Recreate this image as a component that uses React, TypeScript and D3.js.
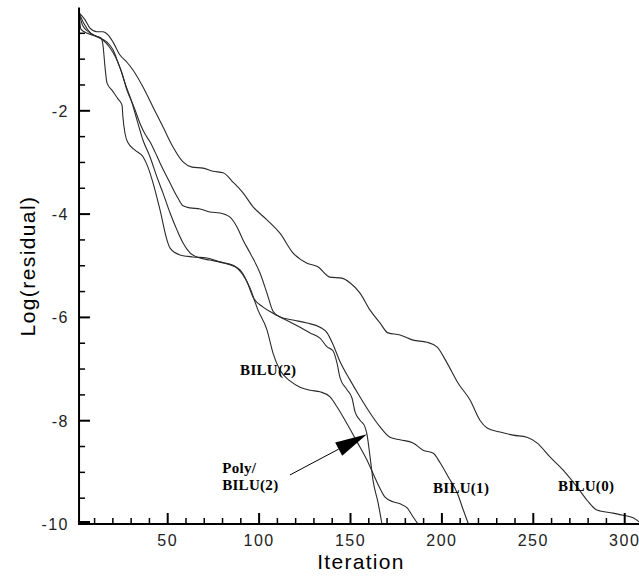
import React from "react";
import * as d3 from "d3";

type P = [number, number];

const bilu0: P[] = [
  [1.5, -0.1], [4.8, -0.24], [7.5, -0.4], [11.3, -0.47], [14.6, -0.47], [17.3, -0.53], [20.1, -0.67],
  [23.9, -0.92], [27.7, -1.06], [31.0, -1.21], [36.5, -1.54], [42.0, -1.93], [47.4, -2.31], [52.9, -2.7],
  [58.4, -2.99], [63.3, -3.09], [69.3, -3.11], [74.8, -3.17], [80.3, -3.2], [85.7, -3.38], [91.2, -3.59],
  [96.7, -3.86], [104.3, -4.11], [111.4, -4.37], [118.5, -4.75], [126.2, -4.95], [132.2, -5.02],
  [138.7, -5.22], [145.3, -5.24], [149.7, -5.33], [155.2, -5.53], [160.7, -5.86], [166.2, -6.11],
  [170.5, -6.3], [177.1, -6.34], [184.2, -6.44], [191.8, -6.48], [197.3, -6.57], [202.8, -6.88],
  [208.8, -7.27], [215.4, -7.6], [220.8, -7.99], [224.7, -8.14], [231.8, -8.22], [238.9, -8.28],
  [246.5, -8.32], [252.0, -8.43], [259.1, -8.7], [266.2, -8.95], [273.9, -9.28], [279.4, -9.54],
  [284.8, -9.73], [293.6, -9.79], [299.1, -9.83], [304.6, -9.88], [308.5, -9.97],
];

const bilu1: P[] = [
  [1.5, -0.1], [4, -0.3], [8, -0.5], [12, -0.57], [14.6, -0.63], [18.4, -0.78], [21.7, -0.98],
  [23.9, -1.17], [26.6, -1.46], [29.4, -1.73], [32.1, -1.98], [34.8, -2.24], [37.6, -2.45], [40.3, -2.6],
  [43.1, -2.8], [45.8, -3.01], [51.3, -3.4], [55.6, -3.69], [58.4, -3.84], [62.2, -3.88], [67.7, -3.9],
  [73.1, -3.96], [78.6, -3.98], [84.1, -4.06], [87.9, -4.25], [91.2, -4.5], [95.0, -4.75], [100.5, -5.14],
  [104.3, -5.53], [107.6, -5.88], [111.4, -5.99], [118.5, -6.05], [126.2, -6.11], [133.3, -6.19],
  [137.2, -6.3], [140.5, -6.53], [144.3, -6.86], [149.7, -7.21], [155.2, -7.54], [160.7, -7.85],
  [166.2, -8.12], [171.6, -8.32], [177.1, -8.37], [184.2, -8.43], [189.7, -8.57], [195.3, -8.63],
  [199.1, -8.82], [203.5, -9.09], [208.4, -9.4], [211.7, -9.73], [214.5, -10.0],
];

const bilu2: P[] = [
  [1.5, -0.1], [2.5, -0.42], [6, -0.5], [11, -0.56], [13.5, -0.59], [14.6, -0.73], [15.7, -1.15],
  [16.8, -1.46], [19.5, -1.6], [22.8, -1.77], [25.0, -1.89], [25.5, -2.12], [26.6, -2.43], [28.3, -2.62],
  [32.1, -2.76], [36.5, -2.89], [39.2, -3.09], [42.0, -3.4], [45.8, -3.92], [49.6, -4.5], [51.3, -4.66],
  [56.7, -4.79], [63.8, -4.83], [71.5, -4.85], [78.6, -4.93], [85.7, -4.99], [91.2, -5.18], [95.0, -5.43],
  [99.4, -5.86], [104.3, -6.24], [107.6, -6.69], [111.4, -7.02], [116.9, -7.23], [122.4, -7.35],
  [127.9, -7.41], [133.3, -7.44], [138.8, -7.54], [142.6, -7.73], [148.1, -8.06], [153.6, -8.41],
  [159.0, -8.76], [164.5, -9.19], [168.9, -9.48], [173.3, -9.57], [177.1, -9.61], [181.0, -9.69],
  [184.2, -9.86], [186.9, -10.0],
];

const polyBilu2: P[] = [
  [1.5, -0.1], [3.5, -0.35], [7, -0.48], [11, -0.56], [14.6, -0.62], [16.8, -0.67], [20.1, -0.82],
  [22.8, -1.06], [25.0, -1.27], [27.7, -1.6], [30.5, -1.85], [33.2, -2.18], [36.5, -2.57], [40.3, -2.89],
  [44.1, -3.28], [47.4, -3.59], [51.3, -3.98], [55.1, -4.31], [58.4, -4.56], [62.2, -4.75], [66.0, -4.83],
  [73.1, -4.89], [81.4, -4.95], [89.6, -5.08], [93.4, -5.31], [96.7, -5.61], [102.2, -5.8], [107.6, -5.92],
  [112.5, -6.01], [116.9, -6.09], [122.4, -6.19], [127.9, -6.3], [133.3, -6.4], [137.2, -6.57],
  [140.5, -6.65], [142.6, -6.88], [144.3, -7.17], [148.1, -7.4], [150.8, -7.56], [152.5, -7.83],
  [155.2, -7.99], [157.9, -8.12], [159.0, -8.26], [160.7, -8.7], [162.3, -9.15], [165.1, -9.59],
  [167.2, -10.0],
];

const seriesList: P[][] = [bilu0, bilu1, bilu2, polyBilu2];

const xMajorTicks = [50, 100, 150, 200, 250, 300];
const xMinorTicks = [10, 20, 30, 40, 60, 70, 80, 90, 110, 120, 130, 140, 160, 170, 180, 190, 210, 220, 230, 240, 260, 270, 280, 290];
const yMajorTicks = [-10, -8, -6, -4, -2];
const yMinorTicks = [-9.5, -9, -8.5, -7.5, -7, -6.5, -5.5, -5, -4.5, -3.5, -3, -2.5, -1.5, -1, -0.5];

const curveLabels: { text: string; x: number; y: number }[] = [
  { text: "BILU(2)", x: 89.6, y: -7.12 },
  { text: "Poly/", x: 79.8, y: -9.01 },
  { text: "BILU(2)", x: 79.8, y: -9.34 },
  { text: "BILU(1)", x: 195.1, y: -9.4 },
  { text: "BILU(0)", x: 263.5, y: -9.36 },
];

const arrowTail: P = [116.9, -9.05];
const arrowTip: P = [159.0, -8.26];

export default function App() {
  const W = 639;
  const H = 577;
  const x = d3.scaleLinear().domain([0, 300]).range([76.3, 76.3 + 1.828 * 300]);
  const y = d3.scaleLinear().domain([-10, 0]).range([524, 7.5]);
  const line = d3
    .line<P>()
    .x((d) => x(d[0]))
    .y((d) => y(d[1]))
    .curve(d3.curveMonotoneX);

  const axX = x(1.5);
  const axY = y(-10);

  const tx = x(arrowTip[0]);
  const ty = y(arrowTip[1]);
  const sx = x(arrowTail[0]);
  const sy = y(arrowTail[1]);
  const ang = Math.atan2(ty - sy, tx - sx);
  const hl = 32;
  const hw = 7.5;
  const bx = tx - hl * Math.cos(ang);
  const by = ty - hl * Math.sin(ang);
  const head = [
    [tx, ty],
    [bx + hw * Math.sin(ang), by - hw * Math.cos(ang)],
    [bx - hw * Math.sin(ang), by + hw * Math.cos(ang)],
  ]
    .map((p) => p.join(","))
    .join(" ");

  const tickFont = "'Liberation Sans', Arial, sans-serif";

  return (
    <svg
      width={W}
      height={H}
      style={{ position: "absolute", left: 0, top: 0, background: "#fff" }}
    >
      <rect x={0} y={0} width={W} height={H} fill="#fff" />
      {seriesList.map((s, i) => (
        <path key={i} d={line(s) || ""} fill="none" stroke="#2a2a2a" strokeWidth={1.1} />
      ))}
      <line x1={axX} y1={7.5} x2={axX} y2={axY + 1} stroke="#000" strokeWidth={2} />
      <line x1={axX - 1} y1={axY} x2={W + 5} y2={axY} stroke="#000" strokeWidth={2} />
      {xMajorTicks.map((t) => (
        <line key={"xM" + t} x1={x(t)} x2={x(t)} y1={axY} y2={axY - 11} stroke="#000" strokeWidth={2} />
      ))}
      {xMinorTicks.map((t) => (
        <line key={"xm" + t} x1={x(t)} x2={x(t)} y1={axY} y2={axY - 6} stroke="#000" strokeWidth={1.5} />
      ))}
      {yMajorTicks.map((t) => (
        <line key={"yM" + t} x1={axX} x2={axX + 11} y1={y(t) - (t === -10 ? 1.5 : 0)} y2={y(t) - (t === -10 ? 1.5 : 0)} stroke="#000" strokeWidth={t === -10 ? 3 : 2} />
      ))}
      {yMinorTicks.map((t) => (
        <line key={"ym" + t} x1={axX} x2={axX + 6} y1={y(t)} y2={y(t)} stroke="#000" strokeWidth={1.5} />
      ))}
      {xMajorTicks.map((t) => (
        <text key={"xl" + t} x={x(t)} y={546} textAnchor="middle" fontFamily={tickFont} fontSize={16} letterSpacing={1.5} fill="#222">
          {t}
        </text>
      ))}
      {yMajorTicks.map((t) => (
        <text key={"yl" + t} x={69} y={y(t) + 6} textAnchor="end" fontFamily={tickFont} fontSize={16} letterSpacing={1.5} fill="#222">
          {String(t)}
        </text>
      ))}
      <text x={361} y={569} textAnchor="middle" fontFamily={tickFont} fontSize={21} letterSpacing={1.3} fill="#000">
        Iteration
      </text>
      <text
        transform={`translate(35, 266) rotate(-90)`}
        textAnchor="middle"
        fontFamily={tickFont}
        fontSize={21}
        letterSpacing={1.4}
        fill="#000"
      >
        Log(residual)
      </text>
      {curveLabels.map((l, i) => (
        <text key={"cl" + i} x={x(l.x)} y={y(l.y)} fontFamily="'Liberation Serif', 'Times New Roman', serif" fontWeight="bold" fontSize={15} letterSpacing={0.3} fill="#000">
          {l.text}
        </text>
      ))}
      <line x1={sx} y1={sy} x2={bx} y2={by} stroke="#000" strokeWidth={1} />
      <polygon points={head} fill="#000" />
    </svg>
  );
}
